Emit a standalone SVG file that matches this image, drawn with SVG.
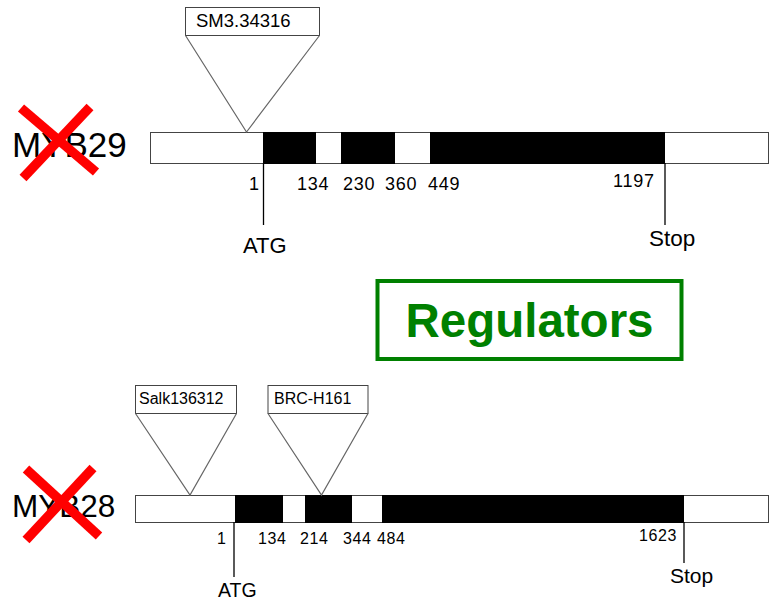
<svg xmlns="http://www.w3.org/2000/svg" width="769" height="603" viewBox="0 0 769 603">
  <style>
    .t { font-family: "Liberation Sans", Arial, sans-serif; fill: #000; }
    .bar { fill: #fff; stroke: #444; stroke-width: 1; }
    .exon { fill: #000; }
    .ins { fill: #fff; stroke: #444; stroke-width: 1; }
    .wedge { fill: none; stroke: #666; stroke-width: 1.2; }
    .tick { stroke: #000; stroke-width: 1.3; }
    .cross { stroke: #f00; stroke-width: 9.5; stroke-linecap: butt; }
    .num { font-size: 18px; letter-spacing: 0.8px; }
    .num2 { font-size: 16px; letter-spacing: 0.6px; }
  </style>
  <rect width="769" height="603" fill="#fff"/>

  <!-- MYB29 gene model -->
  <g id="myb29">
    <text class="t" x="12" y="157" font-size="35">MYB29</text>
    <rect class="bar" x="150.5" y="132.5" width="618" height="31"/>
    <rect class="exon" x="263" y="132" width="53" height="32"/>
    <rect class="exon" x="341" y="132" width="54" height="32"/>
    <rect class="exon" x="430" y="132" width="235" height="32"/>
    <text class="t num" x="249" y="190">1</text>
    <text class="t num" x="297" y="190">134</text>
    <text class="t num" x="343" y="190">230</text>
    <text class="t num" x="385" y="190">360</text>
    <text class="t num" x="428" y="190">449</text>
    <text class="t num" x="613" y="187">1197</text>
    <text class="t" x="243" y="253" font-size="22">ATG</text>
    <text class="t" x="649" y="246" font-size="22.5">Stop</text>
  </g>
  <g id="myb29-knockout">
    <line class="cross" x1="21" y1="108" x2="96" y2="172"/>
    <line class="cross" x1="90" y1="107" x2="23" y2="178"/>
  </g>
  <g id="sm3-34316">
    <rect class="ins" x="185.5" y="7.5" width="134" height="28"/>
    <text class="t" x="196" y="27" font-size="18.5">SM3.34316</text>
  </g>

  <!-- Regulators label -->
  <g id="regulators">
    <rect x="377.5" y="281" width="304" height="78" fill="none" stroke="#008000" stroke-width="4"/>
    <text class="t" x="529.5" y="337" font-size="47.5" font-weight="bold" style="fill:#008000" text-anchor="middle">Regulators</text>
  </g>

  <!-- MYB28 gene model -->
  <g id="myb28">
    <text class="t" x="12" y="517" font-size="31.5">MYB28</text>
    <rect class="bar" x="135.5" y="495.5" width="633" height="27"/>
    <rect class="exon" x="235" y="495" width="48" height="28"/>
    <rect class="exon" x="305" y="495" width="47" height="28"/>
    <rect class="exon" x="382" y="495" width="302" height="28"/>
    <text class="t num2" x="217" y="544">1</text>
    <text class="t num2" x="258" y="544">134</text>
    <text class="t num2" x="300" y="544">214</text>
    <text class="t num2" x="343" y="544">344</text>
    <text class="t num2" x="377" y="544">484</text>
    <text class="t num2" x="639" y="541">1623</text>
    <text class="t" x="218" y="597" font-size="19.5">ATG</text>
    <text class="t" x="670" y="583" font-size="21">Stop</text>
  </g>
  <g id="myb28-knockout">
    <line class="cross" x1="26" y1="469" x2="99" y2="536"/>
    <line class="cross" x1="93" y1="468" x2="26" y2="540"/>
  </g>
  <g id="salk136312">
    <rect class="ins" x="135.5" y="385.5" width="101" height="28"/>
    <text class="t" x="139" y="404" font-size="16">Salk136312</text>
  </g>
  <g id="brc-h161">
    <rect class="ins" x="268" y="385.5" width="100" height="28"/>
    <text class="t" x="274" y="404" font-size="16">BRC-H161</text>
  </g>

  <!-- insertion wedges and start/stop markers -->
  <g id="connectors">
    <polyline class="wedge" points="185.5,35.5 246.5,132 319.5,35.5"/>
    <polyline class="wedge" points="135.5,413.5 190,495 236.5,413.5"/>
    <polyline class="wedge" points="268,413.5 321.5,495 368,413.5"/>
    <line class="tick" x1="263.5" y1="163" x2="263.5" y2="225"/>
    <line class="tick" x1="665" y1="163" x2="665" y2="225"/>
    <line class="tick" x1="234" y1="522" x2="234" y2="577"/>
    <line class="tick" x1="684" y1="522" x2="684" y2="563"/>
  </g>
</svg>
